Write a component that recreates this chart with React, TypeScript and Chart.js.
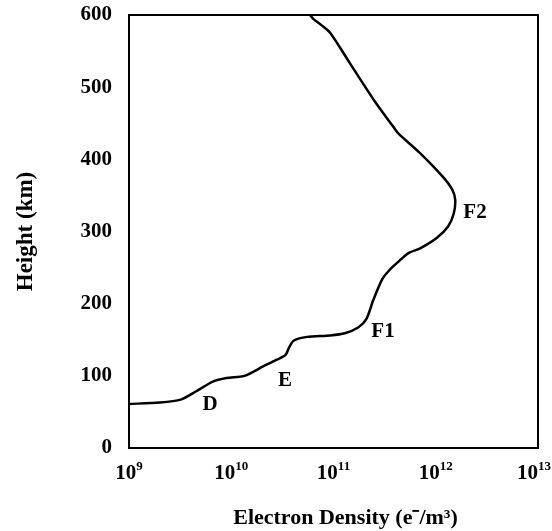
import React, { useEffect, useRef } from "react";
import { Chart, registerables } from "chart.js";

Chart.register(...registerables);

// Electron density (e-/m^3) and height (km) along the profile
const density = [
  1.0e9, 2.0e9, 3.2e9, 4.6e9, 6.6e9, 9.0e9, 1.35e10, 2.05e10, 2.75e10, 3.4e10,
  3.7e10, 4.1e10, 5.5e10, 9.3e10, 1.29e11, 1.74e11, 2.1e11, 2.45e11, 3.0e11, 3.55e11,
  4.3e11, 5.4e11, 7.1e11, 1.02e12, 1.32e12, 1.5e12, 1.55e12, 1.45e12, 1.17e12, 7.1e11,
  4.3e11, 3.85e11, 2.6e11, 1.45e11, 9.3e10, 7.6e10, 6.3e10, 5.9e10,
];
const height = [
  61, 63, 67, 79, 92, 97, 100, 113, 122, 129,
  140, 149, 154, 156, 159, 167, 179, 205, 234, 247,
  258, 270, 277, 291, 307, 325, 344, 358, 376, 408,
  436, 445, 478, 533, 575, 586, 595, 600,
];

// Region labels and where they sit (density, height)
const regionNames = ["D", "E", "F1", "F2"];
const regionDensity = [6.2e9, 3.36e10, 3.05e11, 2.42e12];
const regionHeight = [60, 94, 162, 326];

const xTicks = [1e9, 1e10, 1e11, 1e12, 1e13];
const xTickBase = ["10", "10", "10", "10", "10"];
const xTickExp = ["9", "10", "11", "12", "13"];
const yTicks = [0, 100, 200, 300, 400, 500, 600];

const xTitle = "Electron Density (e⁻/m³)";
const yTitle = "Height (km)";

const FONT = "'Liberation Serif', 'Times New Roman', serif";

export default function App() {
  const ref = useRef<HTMLCanvasElement | null>(null);

  useEffect(() => {
    if (!ref.current) return;
    const points = density.map((d, i) => ({ x: d, y: height[i] }));

    const framePlugin = {
      id: "frameAndLabels",
      afterDraw(chart: any) {
        const { ctx, chartArea, width } = chart;
        const xs = chart.scales.x;
        const ys = chart.scales.y;
        ctx.save();
        ctx.strokeStyle = "#000";
        ctx.lineWidth = 2;
        ctx.strokeRect(chartArea.left, chartArea.top, chartArea.right - chartArea.left, chartArea.bottom - chartArea.top);
        ctx.fillStyle = "#000";

        // region labels
        ctx.font = `bold 21px ${FONT}`;
        ctx.textAlign = "center";
        ctx.textBaseline = "middle";
        regionNames.forEach((n, i) => {
          ctx.fillText(n, xs.getPixelForValue(regionDensity[i]), ys.getPixelForValue(regionHeight[i]));
        });

        // x tick labels with superscript exponents
        ctx.textBaseline = "alphabetic";
        ctx.textAlign = "left";
        xTicks.forEach((v, i) => {
          const px = xs.getPixelForValue(v);
          ctx.font = `bold 21px ${FONT}`;
          const wb = ctx.measureText(xTickBase[i]).width;
          ctx.font = `bold 13px ${FONT}`;
          const we = ctx.measureText(xTickExp[i]).width;
          let start = px - (wb + we) / 2;
          if (start + wb + we > width - 1) start = width - 1 - wb - we;
          ctx.font = `bold 21px ${FONT}`;
          ctx.fillText(xTickBase[i], start, chartArea.bottom + 31);
          ctx.font = `bold 13px ${FONT}`;
          ctx.fillText(xTickExp[i], start + wb, chartArea.bottom + 22);
        });

        // x axis title
        ctx.font = `bold 22px ${FONT}`;
        ctx.textAlign = "center";
        ctx.textBaseline = "middle";
        ctx.fillText(xTitle, (chartArea.left + chartArea.right) / 2 + 12, chartArea.bottom + 70);
        ctx.restore();
      },
    };

    const chart = new Chart(ref.current, {
      type: "scatter",
      data: {
        datasets: [
          {
            data: points,
            showLine: true,
            borderColor: "#000",
            borderWidth: 2.5,
            pointRadius: 0,
            tension: 0.25,
            fill: false,
          },
        ],
      },
      options: {
        animation: false,
        responsive: false,
        maintainAspectRatio: false,
        layout: { padding: { left: 0, right: 14, top: 15, bottom: 0 } },
        plugins: { legend: { display: false }, tooltip: { enabled: false } },
        scales: {
          x: {
            type: "logarithmic",
            min: 1e9,
            max: 1e13,
            afterBuildTicks: (s: any) => {
              s.ticks = xTicks.map((v) => ({ value: v }));
            },
            afterFit: (s: any) => {
              s.height = 83;
              s.paddingLeft = 0;
              s.paddingRight = 0;
            },
            grid: { display: false },
            border: { display: false },
            ticks: { display: false },
            title: { display: false },
          },
          y: {
            type: "linear",
            min: 0,
            max: 600,
            afterBuildTicks: (s: any) => {
              s.ticks = yTicks.map((v) => ({ value: v }));
            },
            afterFit: (s: any) => {
              s.width = 129;
              s.paddingTop = 0;
              s.paddingBottom = 0;
            },
            grid: { display: false },
            border: { display: false },
            ticks: {
              color: "#000",
              padding: 9,
              font: { family: FONT, size: 21, weight: "bold" },
            },
            title: {
              display: true,
              text: yTitle,
              color: "#000",
              font: { family: FONT, size: 23, weight: "bold" },
              padding: { top: 12, bottom: 0 },
            },
          },
        },
      },
      plugins: [framePlugin],
    } as any);

    return () => chart.destroy();
  }, []);

  return (
    <canvas
      ref={ref}
      width={552}
      height={531}
      style={{ position: "absolute", left: 0, top: 0, width: 552, height: 531 }}
    />
  );
}
